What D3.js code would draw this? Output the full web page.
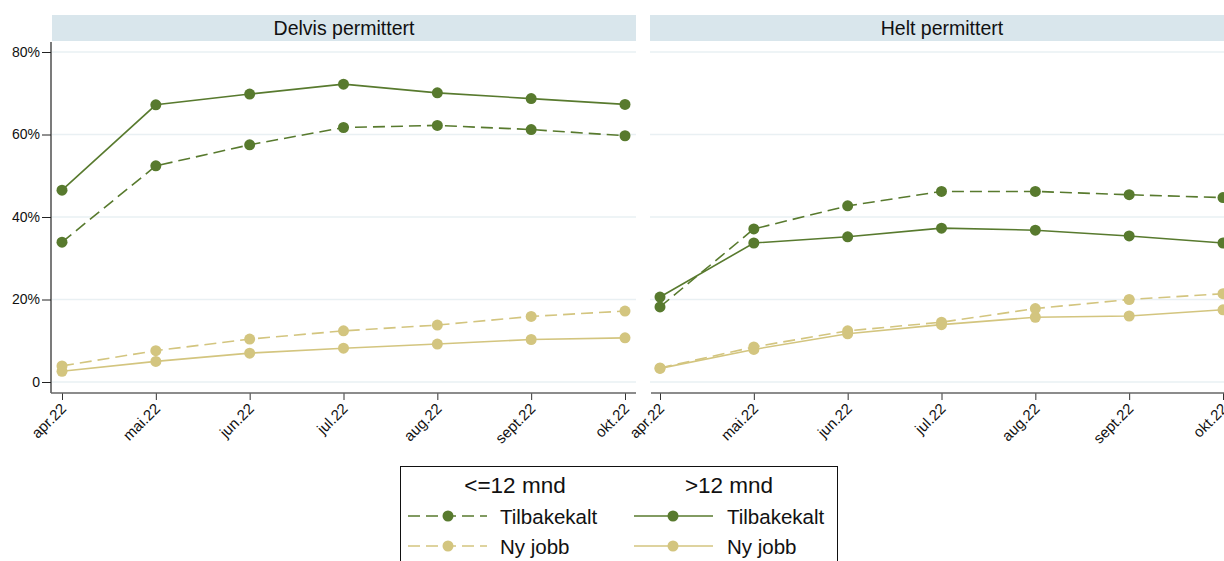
<!DOCTYPE html>
<html>
<head>
<meta charset="utf-8">
<script src="https://cdn.jsdelivr.net/npm/d3@7"></script>
<style>
  html, body { margin: 0; padding: 0; background: #fff; overflow: hidden; }
  svg { display: block; font-family: "Liberation Sans", Arial, Helvetica, sans-serif; }
</style>
</head>
<body>
<svg id="chart" width="1224" height="561"></svg>
<script>
// Months on the x axis
const months = ["apr.22", "mai.22", "jun.22", "jul.22", "aug.22", "sept.22", "okt.22"];
const panelTitles = ["Delvis permittert", "Helt permittert"];
const yTicks = [0, 20, 40, 60, 80];
const yTickLabels = ["0", "20%", "40%", "60%", "80%"];
const groupLabels = ["<=12 mnd", ">12 mnd"];
const outcomeLabels = ["Tilbakekalt", "Ny jobb"];

// Share (%) by months since layoff – partially laid off
const delvisTilbakeKort = [33.9, 52.4, 57.5, 61.7, 62.2, 61.2, 59.7];
const delvisTilbakeLang = [46.5, 67.2, 69.8, 72.2, 70.1, 68.7, 67.3];
const delvisNyKort     = [3.9, 7.6, 10.4, 12.4, 13.8, 15.9, 17.2];
const delvisNyLang     = [2.6, 5.0, 7.0, 8.2, 9.2, 10.3, 10.7];

// Share (%) by months since layoff – fully laid off
const heltTilbakeKort = [18.2, 37.1, 42.7, 46.2, 46.2, 45.4, 44.7];
const heltTilbakeLang = [20.6, 33.7, 35.2, 37.3, 36.8, 35.4, 33.7];
const heltNyKort      = [3.4, 8.5, 12.4, 14.5, 17.8, 20.0, 21.4];
const heltNyLang      = [3.3, 7.9, 11.7, 13.9, 15.7, 16.0, 17.5];

const green = "#587a2e";
const tan = "#d3c57f";
const dash = "12,6";

const panels = [
  { title: panelTitles[0], x0: 51, series: [
      { values: delvisNyLang, color: tan, dashed: false },
      { values: delvisNyKort, color: tan, dashed: true },
      { values: delvisTilbakeLang, color: green, dashed: false },
      { values: delvisTilbakeKort, color: green, dashed: true } ] },
  { title: panelTitles[1], x0: 649, series: [
      { values: heltNyLang, color: tan, dashed: false },
      { values: heltNyKort, color: tan, dashed: true },
      { values: heltTilbakeLang, color: green, dashed: false },
      { values: heltTilbakeKort, color: green, dashed: true } ] }
];

const svg = d3.select("#chart");
const panelW = 585;
const plotTop = 42, plotBottom = 393;
const y = d3.scaleLinear().domain([0, 80]).range([382, 52]);

panels.forEach((p, i) => {
  const x = d3.scalePoint().domain(months).range([p.x0 + 11, p.x0 + panelW - 11]);
  const g = svg.append("g");

  // strip header
  g.append("rect")
    .attr("x", p.x0 + 1).attr("y", 15)
    .attr("width", panelW - 1).attr("height", 26)
    .attr("fill", "#d9e6ec");
  g.append("text")
    .attr("x", p.x0 + 1 + (panelW - 1) / 2).attr("y", 34.5)
    .attr("text-anchor", "middle")
    .attr("font-size", 19.5).attr("fill", "#111")
    .text(p.title);

  // horizontal grid
  g.selectAll(".grid").data(yTicks).join("line")
    .attr("x1", p.x0 + 1).attr("x2", p.x0 + panelW)
    .attr("y1", d => y(d)).attr("y2", d => y(d))
    .attr("stroke", "#e9f0f3").attr("stroke-width", 1.5);

  // y axis on the first panel only
  if (i === 0) {
    const yAxis = d3.axisLeft(y).tickValues(yTicks)
      .tickFormat((d, k) => yTickLabels[k]).tickSize(9).tickPadding(2);
    const ya = g.append("g").attr("transform", `translate(${p.x0},0)`).call(yAxis);
    ya.select(".domain").remove();
    ya.selectAll(".tick line").attr("stroke", "#222");
    ya.selectAll(".tick text").attr("font-size", 14).attr("fill", "#111")
      .attr("font-family", "'Liberation Sans', Arial, sans-serif");
    g.append("line")
      .attr("x1", p.x0).attr("x2", p.x0)
      .attr("y1", plotTop).attr("y2", plotBottom)
      .attr("stroke", "#222").attr("stroke-width", 1.2);
  }

  // x axis
  const xAxis = d3.axisBottom(x).tickSize(7).tickPadding(4);
  const xa = g.append("g").attr("transform", `translate(0,${plotBottom})`).call(xAxis);
  xa.select(".domain").remove();
  xa.selectAll(".tick line").attr("stroke", "#333");
  xa.selectAll(".tick text")
    .attr("font-size", 15).attr("fill", "#111")
    .attr("font-family", "'Liberation Sans', Arial, sans-serif")
    .attr("text-anchor", "end")
    .attr("x", null).attr("y", null)
    .attr("dy", "0.35em")
    .attr("transform", "translate(1,13) rotate(-45)");
  g.append("line")
    .attr("x1", p.x0 + (i === 0 ? 0 : 2)).attr("x2", p.x0 + panelW)
    .attr("y1", plotBottom).attr("y2", plotBottom)
    .attr("stroke", "#666").attr("stroke-width", 1.6);

  // series
  const line = d3.line().x((d, k) => x(months[k])).y(d => y(d));
  p.series.forEach(s => {
    g.append("path")
      .attr("d", line(s.values))
      .attr("fill", "none").attr("stroke", s.color)
      .attr("stroke-width", 1.6)
      .attr("stroke-dasharray", s.dashed ? dash : null);
    g.selectAll(null).data(s.values).join("circle")
      .attr("cx", (d, k) => x(months[k])).attr("cy", d => y(d))
      .attr("r", 5.5).attr("fill", s.color);
  });
});

// legend
const lg = svg.append("g");
lg.append("rect")
  .attr("x", 400.5).attr("y", 466.5).attr("width", 437).attr("height", 120)
  .attr("fill", "#fff").attr("stroke", "#111").attr("stroke-width", 1);

const cols = [
  { cx: 515, lx1: 408, lx2: 487, mx: 448, tx: 500, dashed: true },
  { cx: 729, lx1: 634, lx2: 713, mx: 673, tx: 727, dashed: false }
];
const rows = [{ y: 516, color: green }, { y: 546, color: tan }];

cols.forEach((c, ci) => {
  lg.append("text")
    .attr("x", c.cx).attr("y", 493)
    .attr("text-anchor", "middle").attr("font-size", 22.5).attr("fill", "#111")
    .text(groupLabels[ci]);
  rows.forEach((r, ri) => {
    lg.append("line")
      .attr("x1", c.lx1).attr("x2", c.lx2).attr("y1", r.y).attr("y2", r.y)
      .attr("stroke", r.color).attr("stroke-width", 1.6)
      .attr("stroke-dasharray", c.dashed ? dash : null);
    lg.append("circle").attr("cx", c.mx).attr("cy", r.y).attr("r", 5.5).attr("fill", r.color);
    lg.append("text")
      .attr("x", c.tx).attr("y", r.y + 7.5)
      .attr("font-size", 20.5).attr("fill", "#111")
      .text(outcomeLabels[ri]);
  });
});
</script>
</body>
</html>
